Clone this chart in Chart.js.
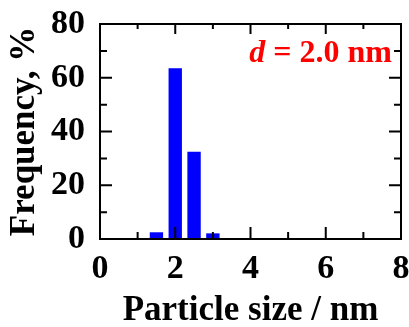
<!DOCTYPE html>
<html><head><meta charset="utf-8">
<script src="https://cdn.jsdelivr.net/npm/chart.js@4"></script>
<style>html,body{margin:0;padding:0;background:#fff}#wrap{width:409px;height:327px}</style>
</head><body><div id="wrap"><canvas id="c" width="409" height="327"></canvas></div>
<script>
// Data
const sizes = [1.5, 2.0, 2.5, 3.0];          // bin centres, nm
const freqs = [2.5, 63.5, 32.5, 2.1];        // frequency, %
const xTickValues = [0, 2, 4, 6, 8];
const yTickValues = [0, 20, 40, 60, 80];
const xMinorValues = [1, 3, 5, 7];
const yMinorValues = [10, 30, 50, 70];
const xTitle = 'Particle size / nm';
const yTitle = 'Frequency, %';
const annotItalic = 'd';
const annotRest = ' = 2.0 nm';

const FONT = '"Liberation Serif", "Times New Roman", serif';

const framePlugin = {
  id: 'frame',
  afterDatasetsDraw(chart) {
    const {ctx, chartArea: a, scales: {x, y}} = chart;
    ctx.save();
    ctx.strokeStyle = '#000';
    ctx.lineWidth = 2;
    ctx.strokeRect(a.left, a.top, a.right - a.left, a.bottom - a.top);
    ctx.beginPath();
    const maj = 12, min = 7;
    xTickValues.concat(xMinorValues).forEach(v => {
      const px = x.getPixelForValue(v);
      const L = xTickValues.includes(v) ? maj : min;
      ctx.moveTo(px, a.bottom); ctx.lineTo(px, a.bottom - L);
      ctx.moveTo(px, a.top); ctx.lineTo(px, a.top + L - 2);
    });
    yTickValues.concat(yMinorValues).forEach(v => {
      const py = y.getPixelForValue(v);
      const L = yTickValues.includes(v) ? maj : min;
      ctx.moveTo(a.left, py); ctx.lineTo(a.left + L, py);
      ctx.moveTo(a.right, py); ctx.lineTo(a.right - L, py);
    });
    ctx.stroke();
    // annotation
    ctx.fillStyle = '#ff0000';
    ctx.textBaseline = 'alphabetic';
    ctx.font = 'italic bold 32px ' + FONT;
    const w1 = ctx.measureText(annotItalic).width;
    ctx.font = 'bold 32px ' + FONT;
    const w2 = ctx.measureText(annotRest).width;
    const x0 = 392 - (w1 + w2);
    ctx.font = 'italic bold 32px ' + FONT;
    ctx.fillText(annotItalic, x0, 62);
    ctx.font = 'bold 32px ' + FONT;
    ctx.fillText(annotRest, x0 + w1, 62);
    ctx.restore();
  }
};

new Chart(document.getElementById('c'), {
  type: 'bar',
  data: {
    datasets: [{
      data: sizes.map((s, i) => ({x: s, y: freqs[i]})),
      backgroundColor: '#0000ff',
      borderWidth: 0,
      barPercentage: 0.71,
      categoryPercentage: 1.0
    }]
  },
  options: {
    responsive: false,
    animation: false,
    devicePixelRatio: 1,
    layout: {padding: {top: 24, right: 8, bottom: 0, left: 0}},
    plugins: {legend: {display: false}, tooltip: {enabled: false}},
    scales: {
      x: {
        type: 'linear', min: 0, max: 8, offset: false,
        grid: {display: false, offset: false},
        border: {display: false},
        ticks: {stepSize: 2, color: '#000', padding: 2, maxRotation: 0,
                font: {family: FONT, size: 34, weight: 'bold'}},
        title: {display: true, text: xTitle, color: '#000', padding: {top: 0, bottom: 0},
                font: {family: FONT, size: 35, weight: 'bold', lineHeight: 0.9}},
        afterFit(s) { s.height = 88; s.paddingLeft = 0; s.paddingRight = 0; }
      },
      y: {
        min: 0, max: 80,
        grid: {display: false},
        border: {display: false},
        ticks: {stepSize: 20, color: '#000', padding: 7,
                font: {family: FONT, size: 34, weight: 'bold'}},
        title: {display: true, text: yTitle, color: '#000', padding: {top: 4, bottom: 0},
                font: {family: FONT, size: 35, weight: 'bold'}},
        afterFit(s) { s.width = 100; s.paddingTop = 0; s.paddingBottom = 0; }
      }
    }
  },
  plugins: [framePlugin]
});
</script>
</body></html>
